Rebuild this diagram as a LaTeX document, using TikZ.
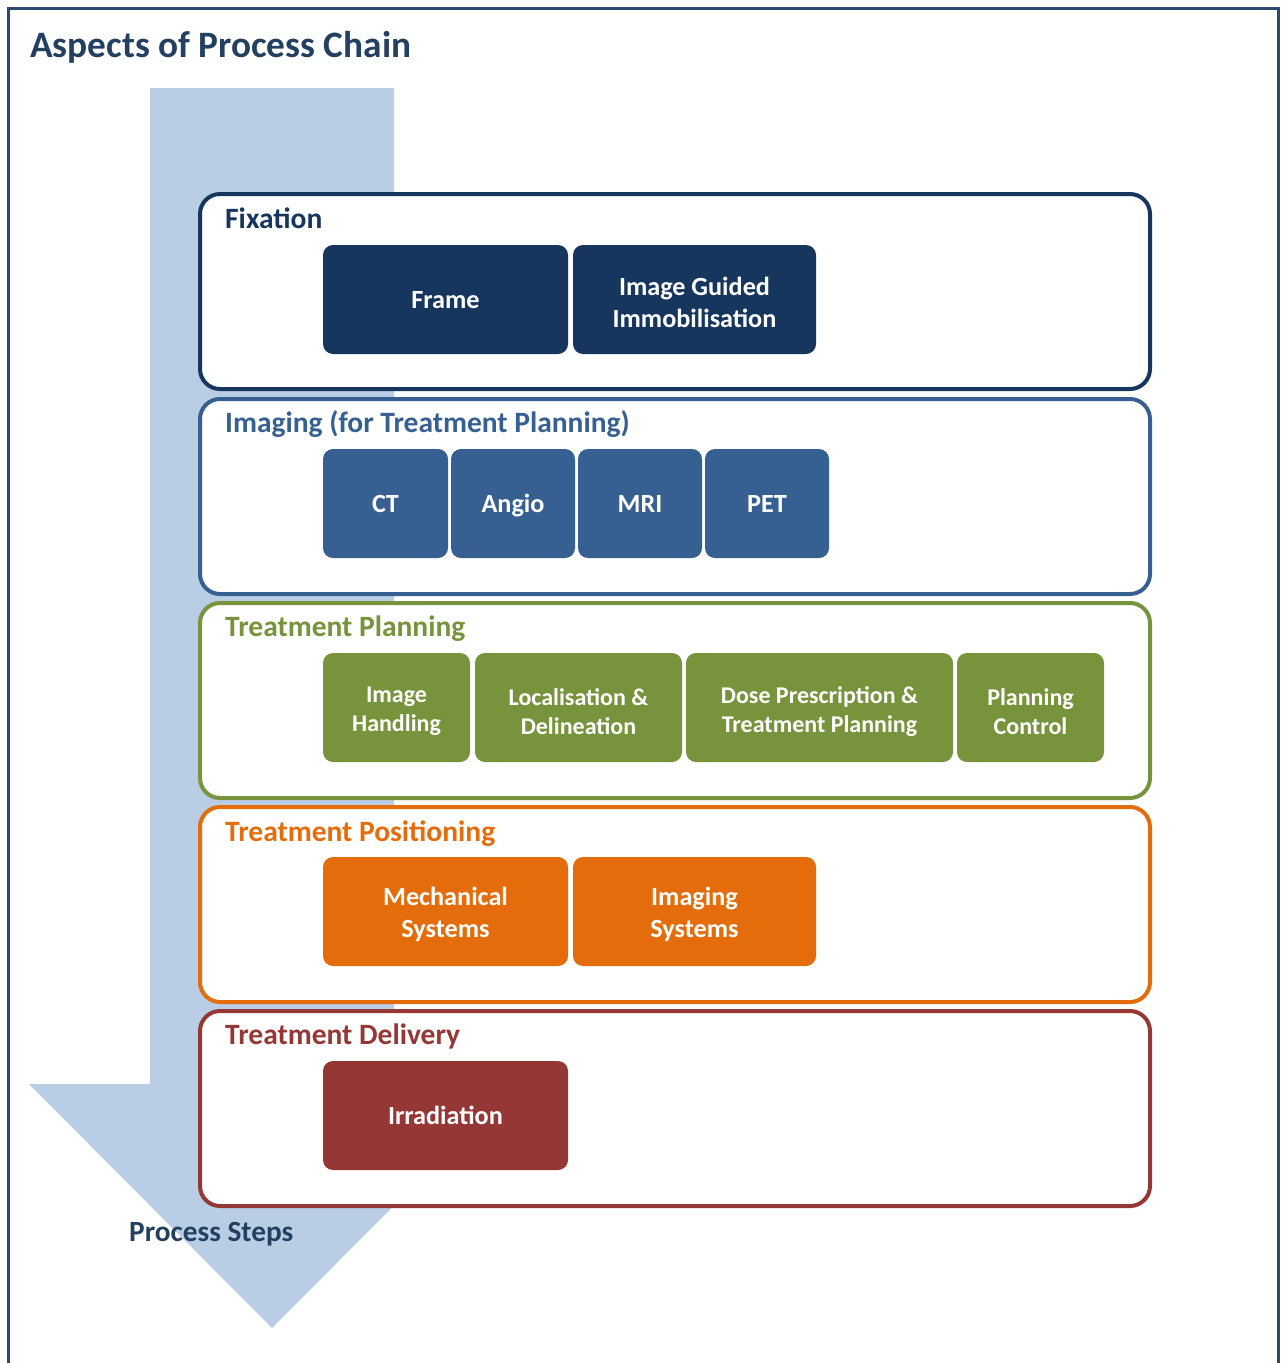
\documentclass[tikz,border=0pt]{standalone}
\usepackage{fontspec}
\setmainfont{Carlito}
\definecolor{frameblue}{RGB}{44,74,110}
\definecolor{titleblue}{RGB}{36,64,97}
\definecolor{navy}{RGB}{23,54,93}
\definecolor{midblue}{RGB}{55,96,146}
\definecolor{olive}{RGB}{119,147,60}
\definecolor{orangec}{RGB}{228,108,10}
\definecolor{brick}{RGB}{149,55,53}
\definecolor{arrowblue}{RGB}{185,205,229}
\begin{document}
\begin{tikzpicture}[x=1pt,y=-1pt,
  outerbox/.style={draw=#1, line width=4pt, fill=white, rounded corners=20pt,
    minimum width=950pt, minimum height=195pt, inner sep=0pt},
  sectitle/.style={anchor=base west, text=#1, font=\fontsize{29.5}{33}\selectfont\bfseries, inner sep=0pt},
  ibox/.style={fill=#1, rounded corners=10pt, minimum height=109pt, inner sep=0pt,
    text=white, font=\fontsize{26.2}{32}\selectfont\bfseries,
    text height=17pt, text depth=0pt},
  twol/.style={text=white, align=center, inner sep=0pt, yshift=-2.5pt,
    font=\fontsize{26.2}{32}\selectfont\bfseries},
  twos/.style={twol, yshift=-1.5pt, font=\fontsize{24}{29}\selectfont\bfseries}
]
\useasboundingbox (0,0) rectangle (1283,1363);
\fill[white] (0,0) rectangle (1283,1363);
% outer frame
\draw[frameblue, line width=3.5pt] (8.5,1370) -- (8.5,8.5) -- (1278.5,8.5) -- (1278.5,1370);
% title
\node[anchor=base west, inner sep=0pt, text=titleblue, font=\fontsize{37.3}{42}\selectfont\bfseries] (title) at (30,57) {Aspects of Process Chain};
% process arrow
\fill[arrowblue] (150,88) -- (394,88) -- (394,1084) -- (515,1084) -- (272,1328) -- (29,1084) -- (150,1084) -- cycle;
\node[anchor=base west, inner sep=0pt, text=titleblue, font=\fontsize{29.3}{33}\selectfont\bfseries] (steps) at (129,1241) {Process Steps};
% outer boxes
\node[outerbox=navy] (fix) at (675,291.5) {};
\node[outerbox=midblue] (img) at (675,496.5) {};
\node[outerbox=olive] (plan) at (675,700.5) {};
\node[outerbox=orangec] (pos) at (675,904.5) {};
\node[outerbox=brick] (del) at (675,1108.5) {};
% section titles
\node[sectitle=navy] (tfix) at (225,228) {Fixation};
\node[sectitle=midblue] (timg) at (225,432) {Imaging (for Treatment Planning)};
\node[sectitle=olive] (tplan) at (225,636) {Treatment Planning};
\node[sectitle=orangec] (tpos) at (225,841) {Treatment Positioning};
\node[sectitle=brick] (tdel) at (225,1044) {Treatment Delivery};
% fixation
\node[ibox=navy, minimum width=245pt] (frame) at (445.5,299.5) {Frame};
\node[ibox=navy, minimum width=243pt, label={[twol]center:{Image Guided\\Immobilisation}}] (igi) at (694.5,299.5) {};
% imaging
\node[ibox=midblue, minimum width=125pt] (ct) at (385.5,503.5) {CT};
\node[ibox=midblue, minimum width=124pt] (angio) at (513,503.5) {Angio};
\node[ibox=midblue, minimum width=124pt] (mri) at (640,503.5) {MRI};
\node[ibox=midblue, minimum width=124pt] (pet) at (767,503.5) {PET};
% planning
\node[ibox=olive, minimum width=147pt, label={[twos]center:{Image\\Handling}}] (ih) at (396.5,707.5) {};
\node[ibox=olive, minimum width=207pt, label={[twos]center:{Localisation \&\\Delineation}}] (loc) at (578.5,707.5) {};
\node[ibox=olive, minimum width=267pt, label={[twos]center:{Dose Prescription \&\\Treatment Planning}}] (dose) at (819.5,707.5) {};
\node[ibox=olive, minimum width=147pt, label={[twos]center:{Planning\\Control}}] (pc) at (1030.5,707.5) {};
% positioning
\node[ibox=orangec, minimum width=245pt, label={[twol]center:{Mechanical\\Systems}}] (mech) at (445.5,911.5) {};
\node[ibox=orangec, minimum width=243pt, label={[twol]center:{Imaging\\Systems}}] (isys) at (694.5,911.5) {};
% delivery
\node[ibox=brick, minimum width=245pt] (irr) at (445.5,1115.5) {Irradiation};
\end{tikzpicture}
\end{document}
